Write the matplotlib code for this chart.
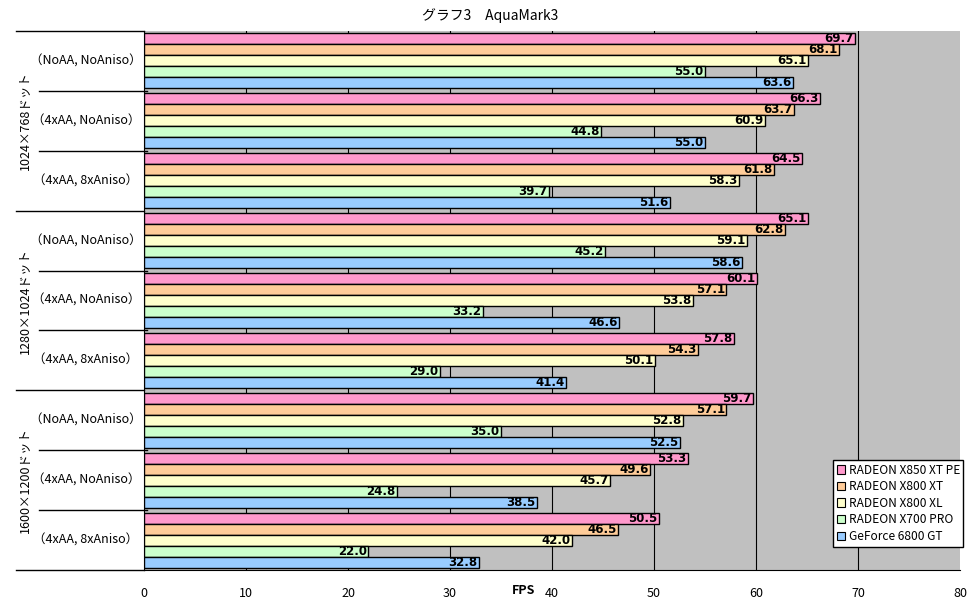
import matplotlib
matplotlib.use("Agg")
import matplotlib.pyplot as plt
from matplotlib.patches import Patch
from matplotlib.lines import Line2D
from matplotlib.transforms import blended_transform_factory
import numpy as np

plt.rcParams['font.family'] = ['Noto Sans CJK JP', 'DejaVu Sans']

title = "グラフ3　AquaMark3"
resolutions = ["1024×768ドット", "1280×1024ドット", "1600×1200ドット"]
settings = ["（NoAA, NoAniso）", "（4xAA, NoAniso）", "（4xAA, 8xAniso）"]
series = ["RADEON X850 XT PE", "RADEON X800 XT", "RADEON X800 XL", "RADEON X700 PRO", "GeForce 6800 GT"]
colors = ["#FF99CC", "#FFCC99", "#FFFFCC", "#CCFFCC", "#99CCFF"]

x850xtpe = [69.7, 66.3, 64.5, 65.1, 60.1, 57.8, 59.7, 53.3, 50.5]
x800xt   = [68.1, 63.7, 61.8, 62.8, 57.1, 54.3, 57.1, 49.6, 46.5]
x800xl   = [65.1, 60.9, 58.3, 59.1, 53.8, 50.1, 52.8, 45.7, 42.0]
x700pro  = [55.0, 44.8, 39.7, 45.2, 33.2, 29.0, 35.0, 24.8, 22.0]
gf6800gt = [63.6, 55.0, 51.6, 58.6, 46.6, 41.4, 52.5, 38.5, 32.8]
values = [x850xtpe, x800xt, x800xl, x700pro, gf6800gt]
xticks = [0, 10, 20, 30, 40, 50, 60, 70, 80]

W, H = 972, 604
fig = plt.figure(figsize=(W / 100, H / 100), dpi=100)
L, R, T, B = 144, 960, 31, 570
ax = fig.add_axes([L / W, 1 - B / H, (R - L) / W, (B - T) / H])
ax.set_facecolor("#C0C0C0")
ax.set_xlim(0, 80)
ax.set_ylim(9, 0)

ncat = len(x850xtpe)
bh = 11 / 60
off = 2.5 / 60
for s, (vals, col) in enumerate(zip(values, colors)):
    ys = np.arange(ncat) + off + s * bh + bh / 2
    ax.barh(ys, vals, height=bh, color=col, edgecolor="black", linewidth=1.0, zorder=3)
    for y, v in zip(ys, vals):
        ax.text(v - 0.15, y, f"{v:.1f}", ha="right", va="center", fontsize=8.5,
                fontweight="bold", family="DejaVu Sans", zorder=4)

for xv in xticks[1:-1]:
    ax.axvline(xv, color="black", linewidth=0.8, zorder=1)

ax.set_xticks(xticks)
ax.set_xticklabels([str(x) for x in xticks], fontsize=9)
ax.tick_params(axis="x", length=0, pad=12)
ax.set_yticks([])
for sp in ["top", "right"]:
    ax.spines[sp].set_visible(False)
ax.spines["left"].set_color("black")
ax.spines["bottom"].set_color("black")

# category axis
tr = blended_transform_factory(fig.transFigure, ax.transData)
for g in range(4):
    ax.add_line(Line2D([16 / W, L / W], [3 * g, 3 * g], transform=tr, color="black",
                       linewidth=1.0, clip_on=False))
for i in range(9):
    if i % 3 != 0:
        ax.add_line(Line2D([39 / W, (L + 3) / W], [i, i], transform=tr, color="black",
                           linewidth=1.0, clip_on=False))
    ax.text(86 / W, i + 0.5, settings[i % 3], transform=tr, ha="center", va="center",
            fontsize=9, clip_on=False)
for g in range(3):
    ax.text(25 / W, 3 * g + 1.5, resolutions[g], transform=tr, ha="center", va="center",
            rotation=90, fontsize=9, clip_on=False)

fig.text(490 / W, 1 - 16 / H, title, ha="center", va="center", fontsize=10)
fig.text(524 / W, 1 - 590 / H, "FPS", ha="center", va="center", fontsize=9, fontweight="bold")

handles = [Patch(facecolor=c, edgecolor="black", linewidth=0.8) for c in colors]
leg = fig.legend(handles, series, loc="upper left", bbox_to_anchor=(833 / W, 1 - 460 / H),
                 fontsize=8.6, frameon=True, fancybox=False, framealpha=1.0,
                 handlelength=0.7, handleheight=0.7,
                 handletextpad=0.3, borderpad=0.3, labelspacing=0.3, borderaxespad=0)
leg.get_frame().set_edgecolor("black")
leg.get_frame().set_facecolor("white")
leg.get_frame().set_linewidth(1.0)

fig.savefig("out.png", dpi=100)
